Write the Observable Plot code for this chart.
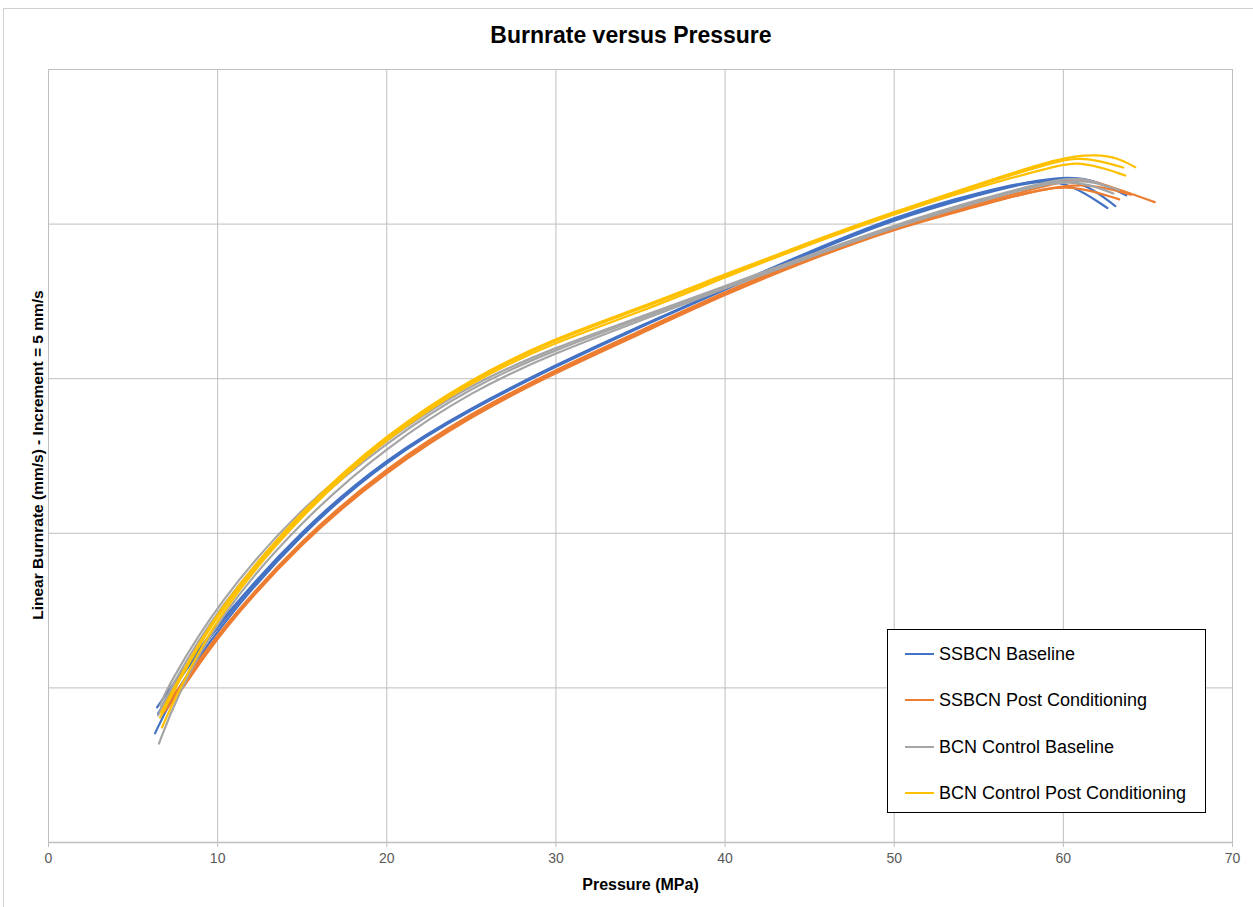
<!DOCTYPE html>
<html><head><meta charset="utf-8">
<script src="https://cdn.jsdelivr.net/npm/d3@7"></script>
<script src="https://cdn.jsdelivr.net/npm/@observablehq/plot@0.6"></script>
<style>
body{margin:0;background:#fff;}
#wrap{position:relative;width:1253px;height:907px;overflow:hidden;font-family:"Liberation Sans Narrow","Arial Narrow","Liberation Sans",sans-serif;}
#frame{position:absolute;left:3px;top:8px;width:1300px;height:950px;border-top:1.5px solid #d0d0d0;border-left:1.5px solid #d0d0d0;}
#chart{position:absolute;left:0;top:0;}
#title{position:absolute;left:0;width:1262px;top:22px;text-align:center;font-weight:bold;font-size:23px;color:#000;}
#xlab{position:absolute;left:0;width:1281px;top:876px;text-align:center;font-weight:bold;font-size:16px;color:#000;}
#ylab{position:absolute;left:38px;top:455px;transform:translate(-50%,-50%) rotate(-90deg);white-space:nowrap;font-weight:bold;font-size:15.5px;color:#000;}
#legend{position:absolute;left:887px;top:629px;width:319px;height:184px;border:1.5px solid #000;background:#fff;box-sizing:border-box;}
.li{position:absolute;left:17px;height:20px;display:flex;align-items:center;font-size:18px;color:#000;}
.li span.sw{display:inline-block;width:29px;height:2px;margin-right:5px;}
</style></head><body>
<div id="wrap">
<div id="frame"></div>
<div id="title">Burnrate versus Pressure</div>
<div id="chart"></div>
<div id="ylab">Linear Burnrate (mm/s) - Increment = 5 mm/s</div>
<div id="xlab">Pressure (MPa)</div>
<div id="legend"></div>
</div>
<script>
// Series names and colours
const seriesNames = ["SSBCN Baseline", "SSBCN Post Conditioning", "BCN Control Baseline", "BCN Control Post Conditioning"];
const seriesColors = ["#4472C4", "#ED7D31", "#A5A5A5", "#FFC000"];
const xTicks = [0, 10, 20, 30, 40, 50, 60, 70];
const yTicks = [0, 5, 10, 15, 20, 25];

// Each curve: [pressure (MPa), burnrate (mm/s, relative units)]
const ssbcnBaseline = [
  [[6.3,3.53],[7.2,4.6],[10,6.95],[15,10.05],[20,12.38],[25,14.02],[30,15.4],[35,16.68],[40,17.88],[45,19.06],[50,20.16],[55,20.95],[58.5,21.45],[60.5,21.3],[62.6,20.52]],
  [[6.42,4.37],[7.2,5.0],[10,7.1],[15,10.15],[20,12.45],[25,14.07],[30,15.45],[35,16.72],[40,17.9],[45,19.1],[50,20.2],[55,21.0],[59.5,21.57],[61.5,21.25],[63.07,20.58]],
  [[6.48,4.17],[7.2,4.85],[10,7.05],[15,10.1],[20,12.42],[25,14.05],[30,15.43],[35,16.7],[40,17.92],[45,19.12],[50,20.24],[55,21.05],[60,21.6],[62,21.4],[63.72,20.93]]
];
const ssbcnPost = [
  [[6.8,4.2],[8,5.0],[10,6.7],[15,9.75],[20,12.02],[25,13.8],[30,15.2],[35,16.45],[40,17.73],[45,18.85],[50,19.85],[55,20.58],[59,21.2],[61,21.2],[63.3,20.8]],
  [[6.9,4.4],[8,5.08],[10,6.76],[15,9.8],[20,12.08],[25,13.85],[30,15.25],[35,16.5],[40,17.78],[45,18.9],[50,19.88],[55,20.62],[60,21.3],[62,21.25],[64,20.95]],
  [[7.0,4.55],[8,5.15],[10,6.8],[15,9.85],[20,12.14],[25,13.9],[30,15.3],[35,16.55],[40,17.82],[45,18.95],[50,19.92],[55,20.66],[60,21.4],[61,21.45],[62.2,21.33],[63.8,21.02],[65.4,20.71]]
];
const bcnBaseline = [
  [[6.53,3.2],[7.5,4.6],[10,7.3],[15,10.45],[20,12.8],[25,14.6],[30,15.85],[35,16.88],[40,17.92],[45,18.93],[50,19.9],[55,20.72],[59.5,21.42],[61.5,21.3],[62.95,20.99]],
  [[6.48,4.11],[7.2,5.0],[10,7.6],[15,10.75],[20,12.95],[25,14.75],[30,15.95],[35,16.95],[40,17.95],[45,18.96],[50,19.94],[55,20.76],[60,21.48],[62,21.35],[63.3,21.1]],
  [[6.6,4.43],[7.0,5.0],[10,7.76],[15,10.9],[20,13.05],[25,14.85],[30,16.02],[35,17.0],[40,18.0],[45,19.0],[50,19.97],[55,20.8],[60,21.52],[61.5,21.45],[62.6,21.2]]
];
const bcnPost = [
  [[6.71,3.72],[7.5,4.7],[10,7.4],[15,10.65],[20,13.1],[25,14.92],[30,16.2],[35,17.15],[40,18.28],[45,19.35],[50,20.33],[55,21.2],[60,21.96],[61,21.98],[62.5,21.8],[63.66,21.57]],
  [[6.6,4.04],[7.5,5.0],[10,7.5],[15,10.72],[20,13.17],[25,14.98],[30,16.28],[35,17.25],[40,18.33],[45,19.4],[50,20.37],[55,21.25],[60,22.12],[61.5,22.14],[63.54,21.83]],
  [[6.65,4.2],[7.5,5.1],[10,7.57],[15,10.8],[20,13.22],[25,15.02],[30,16.33],[35,17.3],[40,18.38],[45,19.42],[50,20.4],[55,21.3],[60,22.19],[62,22.25],[63.2,22.15],[64.25,21.84]]
];

const allSeries = [ssbcnBaseline, ssbcnPost, bcnBaseline, bcnPost];
const rows = [];
allSeries.forEach((curves, si) => curves.forEach((c, ci) => c.forEach(([p, r]) =>
  rows.push({series: seriesNames[si], curve: si + "-" + ci, p, r}))));

const chart = Plot.plot({
  width: 1253, height: 907,
  marginLeft: 48, marginRight: 21, marginTop: 69, marginBottom: 65,
  style: {background: "transparent", fontFamily: "'Liberation Sans Narrow','Arial Narrow','Liberation Sans',sans-serif"},
  x: {domain: [0, 70], ticks: xTicks},
  y: {domain: [0, 25], ticks: yTicks, axis: null},
  color: {domain: seriesNames, range: seriesColors},
  marks: [
    Plot.gridX(xTicks, {stroke: "#bfbfbf", strokeOpacity: 1, strokeWidth: 1}),
    Plot.gridY(yTicks, {stroke: "#bfbfbf", strokeOpacity: 1, strokeWidth: 1}),
    Plot.ruleY([0], {stroke: "#bfbfbf", strokeWidth: 1.5}),
    Plot.axisX(xTicks, {tickSize: 5, tickPadding: 6, fontSize: 14, color: "#595959", stroke: "#bfbfbf", label: null}),
    Plot.line(rows, {x: "p", y: "r", z: "curve", stroke: "series", strokeWidth: 2.2, curve: "basis"})
  ]
});
document.getElementById("chart").appendChild(chart);

const lg = document.getElementById("legend");
const rowTops = [14, 60, 107, 153];
seriesNames.forEach((n, i) => {
  const d = document.createElement("div");
  d.className = "li";
  d.style.top = rowTops[i] + "px";
  d.innerHTML = `<span class="sw" style="background:${seriesColors[i]}"></span>${n}`;
  lg.appendChild(d);
});
</script>
</body></html>
